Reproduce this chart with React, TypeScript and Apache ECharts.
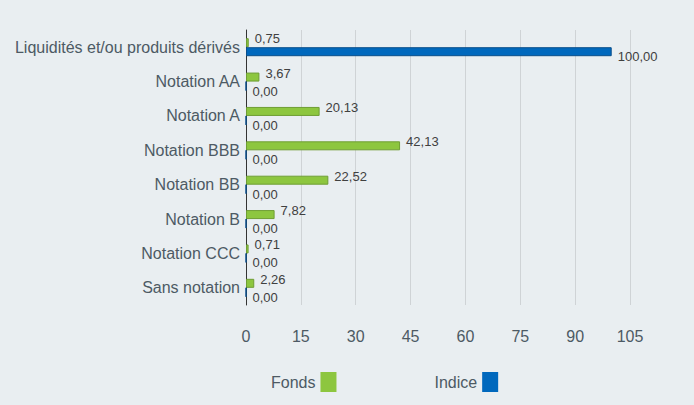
import React, { useEffect, useRef } from "react";
import * as echarts from "echarts";

const categories = [
  "Liquidités et/ou produits dérivés",
  "Notation AA",
  "Notation A",
  "Notation BBB",
  "Notation BB",
  "Notation B",
  "Notation CCC",
  "Sans notation",
];
const fonds = [0.75, 3.67, 20.13, 42.13, 22.52, 7.82, 0.71, 2.26];
const indice = [100.0, 0, 0, 0, 0, 0, 0, 0];
const seriesNames = ["Fonds", "Indice"];
const xTicks = { min: 0, max: 105, interval: 15 };

const fmt = (v: number) => v.toFixed(2).replace(".", ",");

export default function App() {
  const ref = useRef<HTMLDivElement>(null);
  useEffect(() => {
    const chart = echarts.init(ref.current!, undefined, { renderer: "svg" });
    const font = "Liberation Sans, Arial, sans-serif";
    chart.setOption({
      animation: false,
      backgroundColor: "#e9eef1",
      textStyle: { fontFamily: font },
      grid: { left: 246, right: 64, top: 30, bottom: 100, containLabel: false },
      legend: {
        left: 266,
        top: 367,
        align: "right",
        itemWidth: 16,
        itemHeight: 20,
        itemGap: 98,
        icon: "rect",
        itemStyle: { borderWidth: 0 },
        textStyle: { fontSize: 16, color: "#4d5a64", fontFamily: font, padding: [4, 0, 0, 0] },
        data: seriesNames,
      },
      xAxis: {
        type: "value",
        min: xTicks.min,
        max: xTicks.max,
        interval: xTicks.interval,
        axisLine: { show: false },
        axisTick: { show: false },
        axisLabel: { fontSize: 16, color: "#4d5a64", margin: 23, fontFamily: font },
        splitLine: { lineStyle: { color: "#cfd3d6", width: 1 } },
      },
      yAxis: {
        type: "category",
        inverse: true,
        data: categories,
        axisLine: { show: true, lineStyle: { color: "#333", width: 1 } },
        axisTick: { show: false },
        axisLabel: { fontSize: 16, color: "#4d5a64", margin: 6, fontFamily: font },
      },
      series: [
        {
          name: seriesNames[0],
          type: "bar",
          data: fonds,
          barWidth: 9,
          barGap: "0%",
          itemStyle: { color: "#8dc63f", borderColor: "#6f9e34", borderWidth: 1 },
          label: {
            show: true,
            position: "right",
            distance: 6,
            fontSize: 13,
            color: "#404040",
            fontFamily: font,
            offset: [0, -4],
            formatter: (p: any) => fmt(p.value),
          },
        },
        {
          name: seriesNames[1],
          type: "bar",
          data: indice,
          barWidth: 9,
          barGap: "0%",
          itemStyle: { color: "#0068bd", borderColor: "#0a4f8c", borderWidth: 1 },
          label: {
            show: true,
            position: "right",
            distance: 6,
            fontSize: 13,
            color: "#404040",
            fontFamily: font,
            offset: [0, 5],
            formatter: (p: any) => fmt(p.value),
          },
        },
      ],
    });
    return () => chart.dispose();
  }, []);
  return <div ref={ref} style={{ width: 694, height: 405, position: "absolute", left: 0, top: 0 }} />;
}
